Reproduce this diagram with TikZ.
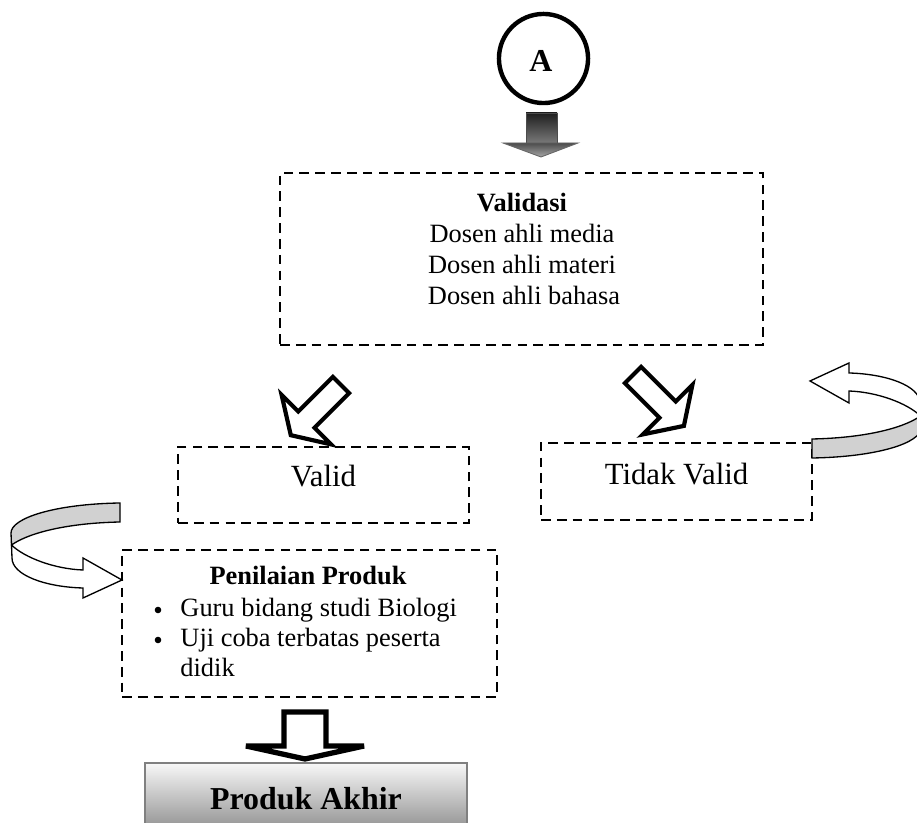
\documentclass[tikz,border=0pt]{standalone}
\usepackage{fontspec}
\setmainfont{Liberation Serif}
\usetikzlibrary{fit}
\begin{document}
\begin{tikzpicture}[x=0.4545pt,y=-0.4545pt,
  dbox/.style={draw, line width=1.2pt, dash pattern=on 4.4pt off 2.8pt, inner sep=0pt},
  txt/.style={inner sep=0pt, anchor=base, font=\fontsize{12}{14}\selectfont},
  bigtxt/.style={inner sep=0pt, anchor=base, font=\fontsize{14}{16}\selectfont},
  bul/.style={circle, fill=black, inner sep=0pt, minimum size=3pt},
  hollow/.style={draw, fill=white, line width=1.9pt, line join=miter, miter limit=4},
  uturn/.style={draw, line width=0.6pt, line join=miter},
]
\useasboundingbox (0,0) rectangle (917,823);
\clip (0,0) rectangle (917,823);

% circle A
\node[draw, circle, line width=2pt, minimum size=40.5pt, inner sep=0pt] (A) at (543.5,58.5) {};
\node[inner sep=0pt, anchor=base, font=\fontsize{14.5}{16}\selectfont\bfseries] (Alab) at (541,72) {A};

% dark arrow
\shade[top color=black!88, bottom color=black!50, draw=black!70, line width=0.4pt] (526,113) rectangle (557,145);
\shade[top color=black!70, bottom color=black!35, draw=black!60, line width=0.4pt] (503,143) -- (578,143) -- (541,157) -- cycle;

% Validasi box
\node[dbox, fit={(280,173)(763,345)}] (val) {};
\node[txt, font=\fontsize{12}{14}\selectfont\bfseries] (t1) at (522,212) {Validasi};
\node[txt] (t2) at (522,243) {Dosen ahli media};
\node[txt] (t3) at (522,274) {Dosen ahli materi};
\node[txt] (t4) at (524,305) {Dosen ahli bahasa};

% diagonal hollow arrows
\draw[hollow, shift={(341,385)}, rotate=225] (0,-11.5) -- (49,-11.5) -- (49,-35) -- (71,0) -- (49,35) -- (49,11.5) -- (0,11.5) -- cycle;
\draw[hollow, shift={(633,375)}, rotate=-45] (0,-11.5) -- (49,-11.5) -- (49,-35) -- (72,0) -- (49,35) -- (49,11.5) -- (0,11.5) -- cycle;

% Valid / Tidak Valid
\node[dbox, fit={(178,447)(469,523)}] (valid) {};
\node[bigtxt] (tv) at (323.5,487) {Valid};
\node[dbox, fit={(541,443)(812,520)}] (tidak) {};
\node[bigtxt] (ttv) at (676.5,485) {Tidak Valid};

% U-turn arrows
\def\myUturn{%
  \filldraw[uturn, fill=black!18] (120,503) .. controls (55,504) and (11,518) .. (11,533) -- (11.5,545) .. controls (30,532) and (70,523) .. (120,522) -- cycle;
  \filldraw[uturn, fill=white] (11.5,545) .. controls (25,558) and (55,569) .. (83,570) -- (83,558) -- (122,580) -- (83,598) -- (83,588) .. controls (45,587) and (12,575) .. (12,558) -- cycle;
}
\myUturn
\begin{scope}[shift={(932,961)}, scale=-1]
\myUturn
\end{scope}

% Penilaian box
\node[dbox, fit={(122,550)(497,697)}] (pen) {};
\node[txt, font=\fontsize{12}{14}\selectfont\bfseries] (p0) at (308,585) {Penilaian Produk};
\node[bul] (b1) at (158,610) {};
\node[txt, anchor=base west] (p1) at (180,617) {Guru bidang studi Biologi};
\node[bul] (b2) at (158,640) {};
\node[txt, anchor=base west] (p2) at (180,647) {Uji coba terbatas peserta};
\node[txt, anchor=base west] (p3) at (180,677) {didik};

% bottom arrow
\draw[line width=2.4pt, fill=white, line join=miter, miter limit=4] (284,712) -- (326,712) -- (326,746) -- (364,746) -- (305,759) -- (246,746) -- (284,746) -- cycle;

% Produk Akhir
\node[fit={(145,763)(467,828)}, inner sep=0pt, draw=black!50, line width=1pt, top color=black!3, bottom color=black!42] (akhir) {};
\node[inner sep=0pt, anchor=base, font=\fontsize{14.5}{17}\selectfont\bfseries] (akt) at (306,810) {Produk Akhir};
\end{tikzpicture}
\end{document}
